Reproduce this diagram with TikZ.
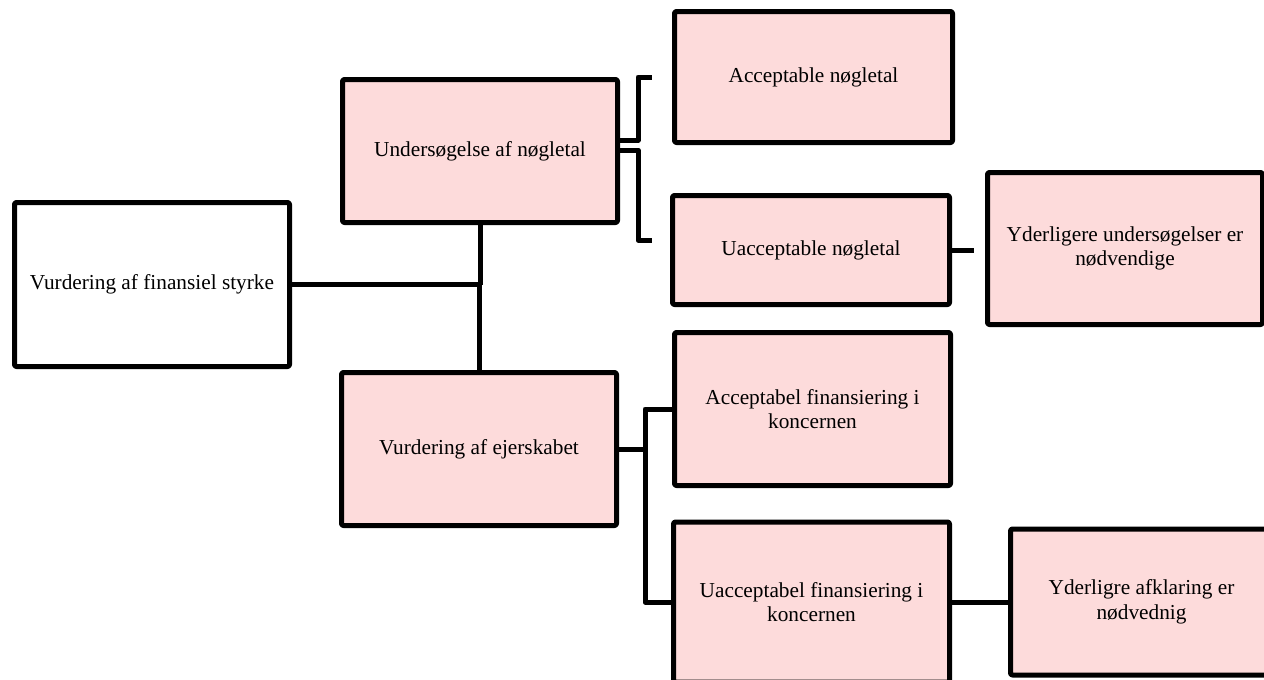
\documentclass[tikz,border=0pt]{standalone}
\usepackage{fontspec}
\setmainfont{Liberation Serif}
\definecolor{lyserod}{RGB}{253,219,219}
\begin{document}
\begin{tikzpicture}[x=1pt, y=-1pt, line width=5pt, line join=round,
		font=\fontsize{21.3}{24.5}\selectfont,
		boks/.style={draw, rectangle, rounded corners=2pt, align=center, inner sep=0pt},
		rodboks/.style={boks, fill=lyserod}]
		\useasboundingbox (0,0) rectangle (1264,680);
		\clip (0,0) rectangle (1264,680);
		% kasser
		\node[boks, minimum width=275pt, minimum height=164pt] (styrke) at (152,284.5) {Vurdering af finansiel styrke};
		\node[rodboks, minimum width=275pt, minimum height=143pt] (noegle) at (480,151) {Undersøgelse af nøgletal};
		\node[rodboks, minimum width=278pt, minimum height=131pt] (accn) at (813.5,77) {Acceptable nøgletal};
		\node[rodboks, minimum width=277pt, minimum height=109pt] (uaccn) at (811,250) {Uacceptable nøgletal};
		\node[rodboks, minimum width=275pt, minimum height=152pt] (yderl) at (1125,248.5) {Yderligere undersøgelser er\\nødvendige};
		\node[rodboks, minimum width=275pt, minimum height=153pt] (ejer) at (479,449) {Vurdering af ejerskabet};
		\node[rodboks, minimum width=276pt, minimum height=153pt] (accfin) at (812.5,409) {Acceptabel finansiering i\\koncernen};
		\node[rodboks, minimum width=276pt, minimum height=160pt] (uaccfin) at (811.5,602) {Uacceptabel finansiering i\\koncernen};
		\node[rodboks, minimum width=262pt, minimum height=146pt] (afkl) at (1141.5,602) {Yderligre afklaring er\\nødvednig};
		% forbindelser
		\draw (styrke.east) -- (styrke.east -| noegle.south);
		\draw (noegle.south) -- (noegle.south |- styrke.east);
		\draw (ejer.north) -- (ejer.north |- styrke.east);
		\coordinate (t1) at (652,77);
		\coordinate (t2) at (652,240);
		\draw ([yshift=11pt]noegle.east) -- ++(18,0) |- (t1);
		\draw ([yshift=1pt]noegle.east) -- ++(18,0) |- (t2);
		\draw (uaccn.east) -- ++(22,0) coordinate (s1);
		\draw (ejer.east) -- ++(26,0) coordinate (gren);
		\draw (accfin.west) -| (gren) |- (uaccfin.west);
		\draw (uaccfin.east) -- (afkl.west);
\end{tikzpicture}
\end{document}
